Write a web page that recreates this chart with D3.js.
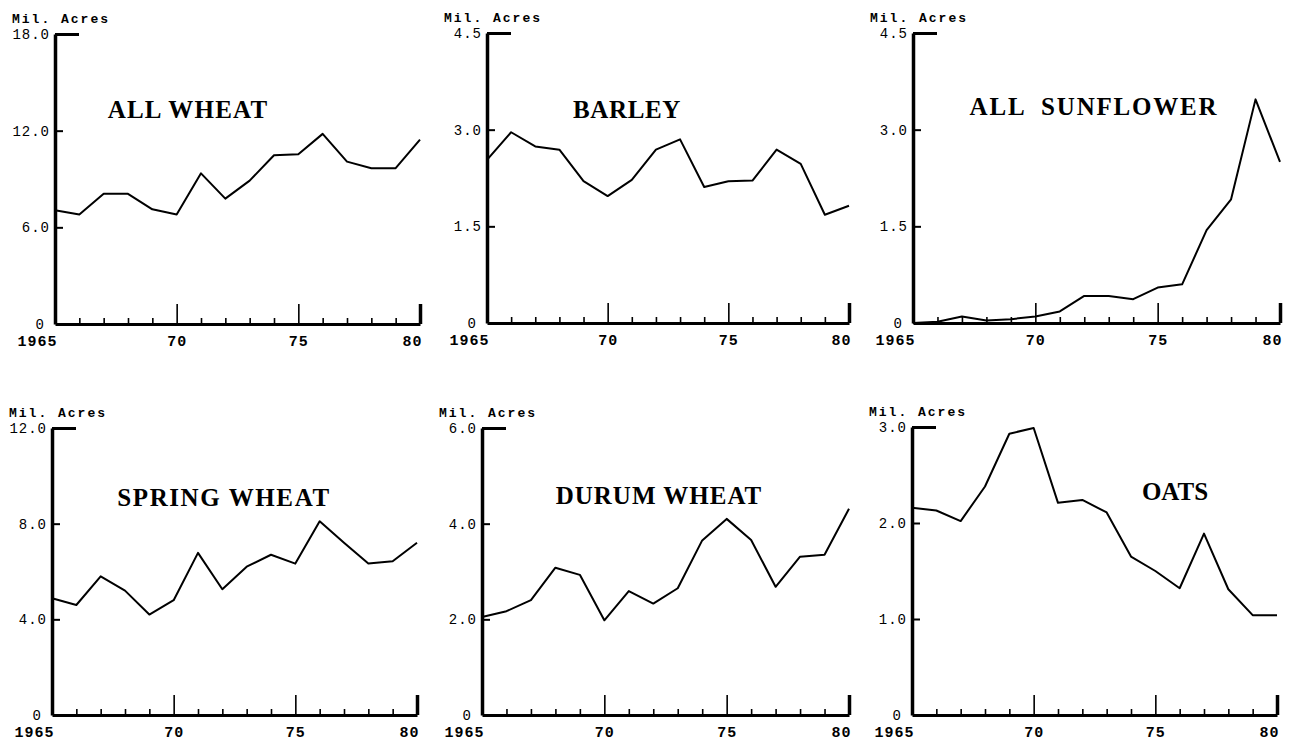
<!DOCTYPE html>
<meta charset="utf-8">
<style>
body { margin: 0; background: #fff; }
.title { font-family: "Liberation Serif", serif; font-weight: bold; font-size: 25px; letter-spacing: 1px; white-space: pre; }
.unit { font-family: "Liberation Mono", monospace; font-weight: bold; font-size: 13px; letter-spacing: 2px; }
.ytick text { font-family: "Liberation Mono", monospace; font-size: 14px; letter-spacing: 1px; }
.xtick text { font-family: "Liberation Mono", monospace; font-weight: bold; font-size: 15px; letter-spacing: 1px; }
</style>
<body>
<script src="https://cdn.jsdelivr.net/npm/d3@7"></script>
<script>

// years on the x axis
var years = [1965, 1966, 1967, 1968, 1969, 1970, 1971, 1972, 1973, 1974, 1975, 1976, 1977, 1978, 1979, 1980];
var yearLabels = {1965: "1965", 1970: "70", 1975: "75", 1980: "80"};

// million acres
var allWheat    = [7.06, 6.8, 8.08, 8.08, 7.12, 6.8, 9.35, 7.78, 8.9, 10.47, 10.53, 11.8, 10.08, 9.67, 9.67, 11.45];
var barley      = [2.53, 2.96, 2.74, 2.69, 2.2, 1.97, 2.22, 2.69, 2.85, 2.11, 2.2, 2.21, 2.69, 2.47, 1.68, 1.82];
var sunflower   = [0.0, 0.02, 0.1, 0.04, 0.06, 0.1, 0.18, 0.42, 0.42, 0.37, 0.55, 0.6, 1.44, 1.92, 3.47, 2.5];
var springWheat = [4.88, 4.6, 5.8, 5.2, 4.2, 4.8, 6.78, 5.26, 6.2, 6.7, 6.33, 8.1, 7.2, 6.33, 6.43, 7.2];
var durumWheat  = [2.05, 2.17, 2.4, 3.08, 2.93, 1.98, 2.59, 2.33, 2.65, 3.65, 4.1, 3.66, 2.68, 3.31, 3.35, 4.31];
var oats        = [2.16, 2.13, 2.02, 2.38, 2.93, 2.99, 2.21, 2.24, 2.11, 1.65, 1.5, 1.32, 1.89, 1.31, 1.04, 1.04];

// y tick values per panel
var wheatTicks  = [0, 6, 12, 18];
var barleyTicks = [0, 1.5, 3, 4.5];
var sunTicks    = [0, 1.5, 3, 4.5];
var springTicks = [0, 4, 8, 12];
var durumTicks  = [0, 2, 4, 6];
var oatsTicks   = [0, 1, 2, 3];

var panels = [
  {title: "ALL WHEAT",       values: allWheat,    ticks: wheatTicks,  box: [55, 420, 34, 324],   tx: 188,  ty: 118, ls: 1.2},
  {title: "BARLEY",          values: barley,      ticks: barleyTicks, box: [487, 849, 33, 323],  tx: 627,  ty: 118, ls: 0.6},
  {title: "ALL  SUNFLOWER",  values: sunflower,   ticks: sunTicks,    box: [913, 1280, 33, 323], tx: 1094, ty: 115, ls: 1.8},
  {title: "SPRING WHEAT",    values: springWheat, ticks: springTicks, box: [52, 417, 428, 715],  tx: 224,  ty: 506, ls: 1.6},
  {title: "DURUM WHEAT",     values: durumWheat,  ticks: durumTicks,  box: [482, 849, 428, 715], tx: 659,  ty: 504, ls: 1},
  {title: "OATS",            values: oats,        ticks: oatsTicks,   box: [912, 1277, 427, 715], tx: 1175, ty: 500, ls: 0}
];

var svg = d3.select("body").append("svg")
    .attr("width", 1291)
    .attr("height", 743);

svg.append("rect").attr("width", 1291).attr("height", 743).attr("fill", "#fff");

panels.forEach(function(p) {
  var x0 = p.box[0], x1 = p.box[1], yTop = p.box[2], yBase = p.box[3];
  var x = d3.scaleLinear().domain([1965, 1980]).range([x0, x1]);
  var y = d3.scaleLinear().domain([0, d3.max(p.ticks)]).range([yBase, yTop]);
  var g = svg.append("g");

  // x axis, ticks pointing up
  var xa = g.append("g")
      .attr("class", "xtick")
      .attr("transform", "translate(0," + yBase + ")")
      .call(d3.axisBottom(x)
        .tickValues(years)
        .tickSizeInner(-6)
        .tickSizeOuter(0)
        .tickPadding(11)
        .tickFormat(function(d) { return yearLabels[d] || ""; }));
  xa.select(".domain").attr("stroke", "#000").attr("stroke-width", 3);
  xa.selectAll(".tick line").attr("stroke", "#000").attr("stroke-width", 1.6)
    .attr("y2", function(d) { return (d % 5 === 0 && d !== 1965) ? -20 : -6; });
  xa.selectAll(".tick")
    .filter(function(d) { return d === 1980; })
    .select("line").attr("stroke-width", 3.5);
  xa.selectAll(".tick text").attr("fill", "#000").attr("font-family", null).attr("font-size", null)
    .attr("dx", function(d) { return d === 1965 ? -18 : d === 1980 ? -8 : 0; });

  // y axis, ticks pointing right
  var ya = g.append("g")
      .attr("class", "ytick")
      .attr("transform", "translate(" + x0 + ",0)")
      .call(d3.axisLeft(y)
        .tickValues(p.ticks)
        .tickSizeInner(-8)
        .tickSizeOuter(0)
        .tickPadding(5)
        .tickFormat(function(d) { return d === 0 ? "0" : d3.format(".1f")(d); }));
  ya.select(".domain").attr("stroke", "#000").attr("stroke-width", 3.5);
  ya.selectAll(".tick line").attr("stroke", "#000").attr("stroke-width", 2)
    .attr("x2", function(d, i) { return i === p.ticks.length - 1 ? 24 : (d === 0 ? 0 : 8); });
  ya.selectAll(".tick")
    .filter(function(d, i) { return i === p.ticks.length - 1; })
    .select("line").attr("stroke-width", 3);
  ya.selectAll(".tick text").attr("fill", "#000").attr("font-family", null).attr("font-size", null)
    .attr("dx", function(d) { return d === 0 ? -5 : 0; });

  // unit label
  g.append("text")
    .attr("class", "unit")
    .attr("x", x0 - 43)
    .attr("y", yTop - 11)
    .text("Mil. Acres");

  // series line
  var line = d3.line()
    .x(function(d, i) { return x(years[i]); })
    .y(function(d) { return y(d); });
  g.append("path")
    .datum(p.values)
    .attr("fill", "none")
    .attr("stroke", "#000")
    .attr("stroke-width", 2)
    .attr("stroke-linejoin", "round")
    .attr("d", line);

  // title
  g.append("text")
    .attr("class", "title")
    .attr("x", p.tx)
    .attr("y", p.ty)
    .attr("text-anchor", "middle")
    .style("letter-spacing", p.ls + "px")
    .text(p.title);
});

</script>
</body>
